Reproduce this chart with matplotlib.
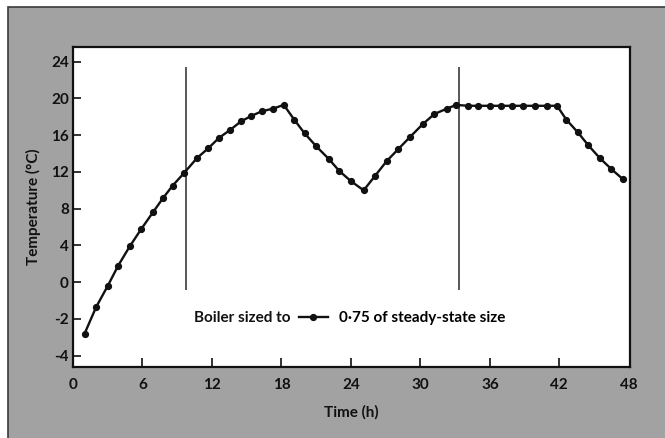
import matplotlib
matplotlib.use("Agg")
import matplotlib.pyplot as plt
from matplotlib.lines import Line2D
from matplotlib.patches import Rectangle

# Readings. Below zero the printed axis is labelled unevenly
# (0, -2, -4 at the same spacing as 4, 8, ...), so temperatures are kept in
# the evenly spaced plot units and the odd labels are applied as tick text.
time_h = [1.0, 2.0, 3.0, 3.9, 4.9, 5.9, 6.9, 7.8, 8.6, 9.6, 10.7, 11.7, 12.6,
          13.6, 14.5, 15.4, 16.3, 17.3, 18.2,
          19.1, 20.0, 21.0, 22.1, 23.0, 24.0, 25.1,
          26.1, 27.1, 28.1, 29.1, 30.2, 31.2, 32.3, 33.1,
          34.1, 35.0, 36.0, 37.0, 37.9, 38.9, 39.9, 40.9, 41.8,
          42.6, 43.6, 44.5, 45.5, 46.5, 47.5]
temp_c = [-5.6, -2.7, -0.4, 1.8, 3.9, 5.8, 7.6, 9.2, 10.5, 11.9, 13.5, 14.6, 15.7,
          16.6, 17.5, 18.1, 18.6, 18.9, 19.3,
          17.7, 16.2, 14.8, 13.4, 12.1, 11.0, 10.0,
          11.6, 13.2, 14.5, 15.8, 17.2, 18.3, 18.9, 19.3,
          19.2, 19.2, 19.2, 19.2, 19.2, 19.2, 19.2, 19.2, 19.2,
          17.7, 16.3, 14.9, 13.5, 12.3, 11.2]

marker_times = [9.75, 33.3]
marker_span = (-0.8, 23.4)

xticks = [6, 12, 18, 24, 30, 36, 42]
xtick_labels = ["0", "6", "12", "18", "24", "30", "36", "42", "48"]
yticks = [-8, -4, 0, 4, 8, 12, 16, 20, 24]
ytick_labels = ["-4", "-2", "0", "4", "8", "12", "16", "20", "24"]

FONT = ["Lato", "DejaVu Sans"]
plt.rcParams["font.family"] = FONT
plt.rcParams["font.weight"] = "bold"
INK = "#111111"
FS = 11

fig = plt.figure(figsize=(6.65, 4.38), dpi=100, facecolor="white")

# grey scanned panel with dark border on top and left
fig.patches.append(Rectangle((8 / 665, -0.05), 1.0, 1 - 7 / 438 + 0.05,
                             transform=fig.transFigure, facecolor="#a2a2a2",
                             edgecolor="#3a3a3a", linewidth=1.2, zorder=-10))

ax = fig.add_axes([73 / 665, 71 / 438, 557 / 665, 320 / 438])
ax.set_facecolor("white")

ax.plot(time_h, temp_c, color=INK, lw=1.7, marker="o", ms=4.2,
        mfc=INK, mec=INK, zorder=3)
ax.vlines(marker_times, marker_span[0], marker_span[1], color="#2a2a2a", lw=1.1)

ax.set_xlim(0, 48.1)
ax.set_ylim(-9.23, 25.6)

ax.set_xticks([0] + xticks + [48])
ax.set_xticklabels(xtick_labels)
ax.set_yticks(yticks)
ax.set_yticklabels(ytick_labels)
ax.tick_params(axis="x", direction="in", length=6.5, width=1.2, pad=8,
               labelsize=FS, colors=INK)
ax.tick_params(axis="y", direction="in", length=5.5, width=1.2, pad=3,
               labelsize=FS, colors=INK)
# no tick mark at the corners
for t in (ax.xaxis.get_major_ticks()[0], ax.xaxis.get_major_ticks()[-1]):
    t.tick1line.set_visible(False)

for s in ax.spines.values():
    s.set_linewidth(1.6)
    s.set_color(INK)

ax.set_xlabel("Time (h)", fontsize=FS, fontweight="bold", color=INK, labelpad=9)
ax.set_ylabel("Temperature (°C)", fontsize=FS, fontweight="bold", color=INK,
              labelpad=7)

ax.text(18.8, -3.9, "Boiler sized to", ha="right", va="center",
        fontsize=FS, fontweight="bold", color=INK)
handle = Line2D([], [], color=INK, lw=1.7, marker="o", ms=4.2)
ax.legend([handle], ["0·75 of steady-state size"], loc="center left",
          bbox_to_anchor=(19.5, -3.9), bbox_transform=ax.transData,
          frameon=False, borderpad=0, borderaxespad=0, handlelength=1.9,
          handletextpad=0.7, numpoints=1,
          prop={"family": FONT, "weight": "bold", "size": FS})

fig.savefig("out.png", dpi=100, facecolor=fig.get_facecolor())
